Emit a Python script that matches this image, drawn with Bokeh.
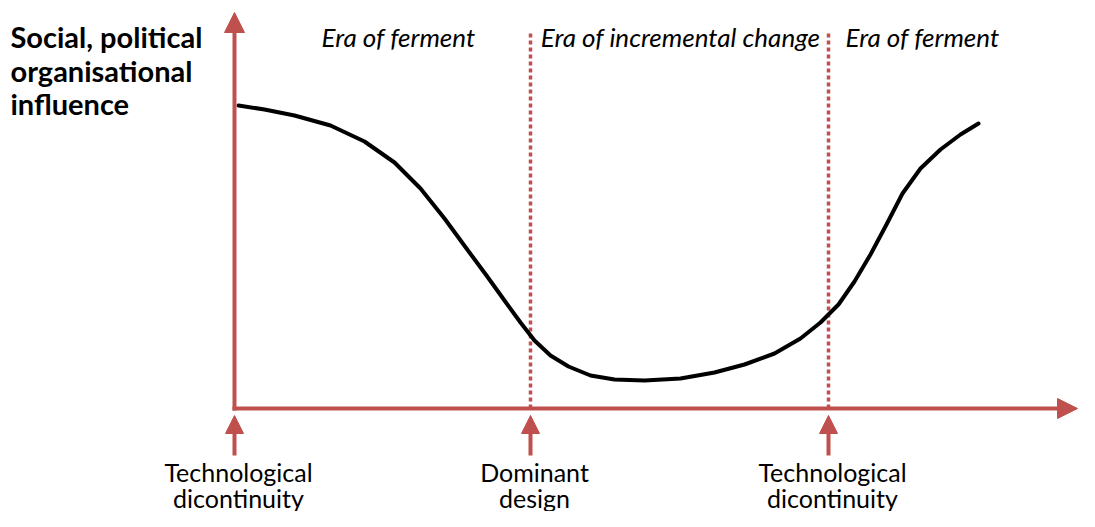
from bokeh.plotting import figure
from bokeh.models import Range1d, Arrow, NormalHead
from bokeh.core.properties import value
from bokeh.embed import file_html
from bokeh.resources import INLINE

# Curve data (time vs influence), chart units
curve_x = [4, 30, 60, 96, 130, 160, 186, 210, 232, 252, 270, 286, 300, 316, 334, 356, 380, 410,
           446, 480, 510, 540, 566, 586, 604, 620, 636, 652, 668, 686, 706, 726, 744]
curve_y = [303, 299, 293, 283, 267, 246, 220, 190, 160, 133, 108, 86, 68, 53, 42, 33, 29, 28,
           30, 36, 44, 55, 70, 86, 104, 127, 154, 184, 215, 240, 259, 274, 285]

# Milestones on the time axis
milestone_x = [0, 296, 594]
milestone_labels_1 = ["Technological", "Dominant", "Technological"]
milestone_labels_2 = ["dicontinuity", "design", "dicontinuity"]

era_labels = ["Era of ferment", "Era of incremental change", "Era of ferment"]
era_x = [164, 446, 688]

y_title = ["Social, political", "organisational", "influence"]

RED = "#c0504d"
W, H = 1079, 511
X0, Y0 = 234, 408  # pixel position of origin

p = figure(width=W, height=H, output_backend="svg", toolbar_location=None,
           x_range=Range1d(-X0, W - X0), y_range=Range1d(Y0 - H, Y0),
           min_border=0)
p.axis.visible = False
p.grid.visible = False
p.outline_line_color = None
p.background_fill_color = "white"
p.border_fill_color = "white"

# dotted era boundaries
for xm in milestone_x[1:]:
    p.line([xm, xm], [0, 378], line_color=RED, line_width=3.5, line_dash="4 3")

# axes with arrowheads
p.add_layout(Arrow(end=NormalHead(size=20, fill_color=RED, line_color=RED, line_width=1),
                   x_start=0, y_start=-2, x_end=0, y_end=396, line_color=RED, line_width=4))
p.add_layout(Arrow(end=NormalHead(size=20, fill_color=RED, line_color=RED, line_width=1),
                   x_start=-2, y_start=0, x_end=843, y_end=0, line_color=RED, line_width=4))

# milestone arrows below the axis
for xm in milestone_x:
    p.add_layout(Arrow(end=NormalHead(size=18, fill_color=RED, line_color=RED, line_width=1),
                       x_start=xm, y_start=-47, x_end=xm, y_end=-7, line_color=RED, line_width=4))

# curve
p.line(curve_x, curve_y, line_color="black", line_width=4, line_join="round", line_cap="round")

FONT = value("Lato")

# y title
p.text(x=[-224] * 3, y=[372, 338, 305], text=y_title, text_font=FONT, text_font_size="29px",
       text_font_style="bold", text_align="left", text_baseline="middle", text_color="black")

# era labels
p.text(x=era_x, y=[372] * 3, text=era_labels, text_font=FONT, text_font_size="26px",
       text_font_style="italic", text_align="center", text_baseline="middle", text_color="black")

# milestone labels
p.text(x=[m + 4 for m in milestone_x], y=[-63] * 3, text=milestone_labels_1, text_font=FONT,
       text_font_size="25px", text_align="center", text_baseline="middle", text_color="black")
p.text(x=[m + 4 for m in milestone_x], y=[-89] * 3, text=milestone_labels_2, text_font=FONT,
       text_font_size="25px", text_align="center", text_baseline="middle", text_color="black")

open("out.html", "w").write(file_html(p, INLINE))
